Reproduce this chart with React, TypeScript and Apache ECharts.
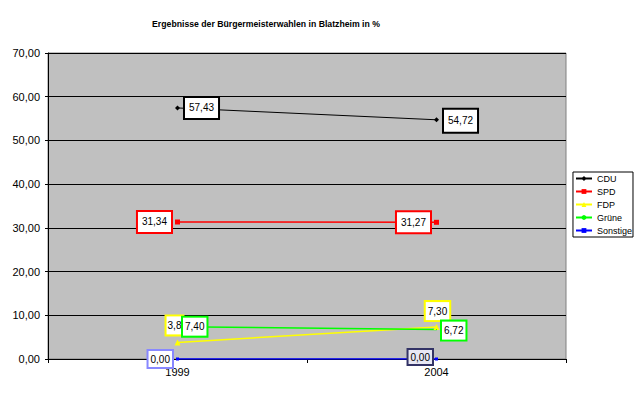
import React, { useEffect, useRef } from "react";
import * as echarts from "echarts";

const categories = ["1999", "2004"];
const cdu = [57.43, 54.72];
const spd = [31.34, 31.27];
const fdp = [3.8, 7.3];
const gruene = [7.4, 6.72];
const sonstige = [0.0, 0.0];
const fdpLabels = ["3,8", "7,30"];

const fmt = (v: number) => v.toFixed(2).replace(".", ",");

export default function App() {
  const ref = useRef<HTMLDivElement>(null);
  useEffect(() => {
    if (!ref.current) return;
    const chart = echarts.init(ref.current, null, { renderer: "svg" });
    const font = "Liberation Sans, Arial, sans-serif";
    const lbl = (color: string, extra: any = {}) => ({
      show: true,
      color: "#000",
      fontSize: 10,
      fontFamily: font,
      backgroundColor: "#fff",
      borderColor: color,
      borderWidth: 2,
      padding: [5, 4],
      ...extra,
    });
    chart.setOption({
      animation: false,
      backgroundColor: "#fff",
      textStyle: { fontFamily: font },
      title: {
        text: "Ergebnisse der Bürgermeisterwahlen in Blatzheim in %",
        left: 261,
        textAlign: "center",
        top: 14,
        textStyle: { fontSize: 8.7, fontWeight: "bold", color: "#000", fontFamily: font },
      },
      legend: {
        orient: "vertical",
        right: 7,
        top: 172,
        backgroundColor: "#fff",
        borderColor: "#000",
        borderWidth: 1,
        borderRadius: 0,
        padding: [2, 1, 2, 2],
        itemWidth: 16,
        itemHeight: 6,
        itemGap: 4,
        textStyle: { fontSize: 9, color: "#000", fontFamily: font },
        data: ["CDU", "SPD", "FDP", "Grüne", "Sonstige"],
      },
      grid: {
        left: 48,
        right: 74,
        top: 53,
        bottom: 38,
        show: true,
        backgroundColor: "#C0C0C0",
        borderColor: "#808080",
        borderWidth: 1,
      },
      xAxis: {
        type: "category",
        data: categories,
        boundaryGap: true,
        axisLine: { lineStyle: { color: "#000", width: 1 } },
        axisTick: { show: true, length: 4, lineStyle: { color: "#000" } },
        axisLabel: { color: "#000", fontSize: 11, fontFamily: font, margin: 7 },
      },
      yAxis: {
        type: "value",
        min: 0,
        max: 70,
        interval: 10,
        axisLine: { show: true, lineStyle: { color: "#000", width: 1 } },
        axisTick: { show: true, length: 3, lineStyle: { color: "#000" } },
        axisLabel: { color: "#000", fontSize: 11, fontFamily: font, margin: 8, formatter: (v: number) => fmt(v) },
        splitLine: { lineStyle: { color: "#000", width: 1 } },
      },
      series: [
        {
          name: "CDU",
          type: "line",
          data: [
            { value: cdu[0], label: lbl("#000", { position: "right", distance: 5 }) },
            { value: cdu[1], label: lbl("#000", { position: "right", distance: 5, offset: [0, 1], padding: [6, 4] }) },
          ],
          color: "#000",
          symbol: "diamond",
          symbolSize: 5,
          lineStyle: { width: 1, color: "#000" },
          label: { formatter: (p: any) => fmt(p.value) },
        },
        {
          name: "SPD",
          type: "line",
          data: [
            { value: spd[0], label: lbl("#FF0000", { position: "left", distance: 4 }) },
            { value: spd[1], label: lbl("#FF0000", { position: "left", distance: 4 }) },
          ],
          color: "#FF0000",
          symbol: "rect",
          symbolSize: 5,
          lineStyle: { width: 1.5, color: "#FF0000" },
          label: { formatter: (p: any) => fmt(p.value) },
        },
        {
          name: "FDP",
          type: "line",
          data: [
            { value: fdp[0], label: lbl("#FFFF00", { position: "top", distance: 5, offset: [-3, 0], padding: [4, 1], formatter: fdpLabels[0] }) },
            { value: fdp[1], label: lbl("#FFFF00", { position: "top", distance: 4, offset: [1, 0], padding: [4, 2], formatter: fdpLabels[1] }) },
          ],
          color: "#FFFF00",
          symbol: "triangle",
          symbolSize: 6,
          lineStyle: { width: 1.5, color: "#FFFF00" },
        },
        {
          name: "Grüne",
          type: "line",
          data: [
            { value: gruene[0], label: lbl("#00FF00", { position: "right", distance: 5, padding: [4, 2] }) },
            { value: gruene[1], label: lbl("#00FF00", { position: "right", distance: 5, offset: [0, 1], padding: [4, 2] }) },
          ],
          color: "#00FF00",
          symbol: "circle",
          symbolSize: 1,
          lineStyle: { width: 1.5, color: "#00FF00" },
          label: { formatter: (p: any) => fmt(p.value) },
        },
        {
          name: "Sonstige",
          type: "line",
          data: [
            { value: sonstige[0], label: lbl("#8888FF", { position: "left", distance: 4, padding: [3, 2] }) },
            { value: sonstige[1], label: lbl("#333366", { position: "left", distance: 3, offset: [0, -2], padding: [2, 2], backgroundColor: "#E8E8F4" }) },
          ],
          color: "#0000FF",
          symbol: "rect",
          symbolSize: 3,
          lineStyle: { width: 1.5, color: "#0000FF" },
          label: { formatter: (p: any) => fmt(p.value) },
        },
      ],
    });
    return () => chart.dispose();
  }, []);
  return <div ref={ref} style={{ width: 640, height: 397, position: "absolute", left: 0, top: 0 }} />;
}
